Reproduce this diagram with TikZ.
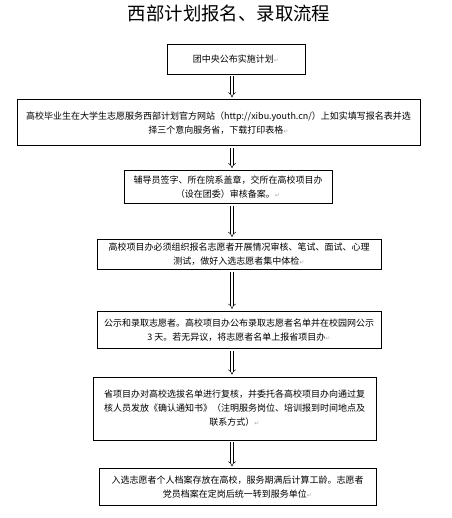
\documentclass[tikz,border=0pt]{standalone}
\usepackage{fontspec}
\setmainfont{Noto Sans CJK SC}
\newfontfamily\dejavu{DejaVu Sans}
\usetikzlibrary{positioning,arrows.meta}
\definecolor{markGray}{RGB}{170,170,170}
\newcommand{\retmark}{{\dejavu\color{markGray}\fontsize{6}{6}\selectfont ↵}}

\begin{document}
\begin{tikzpicture}[
  x=1pt, y=-1pt,
  font=\fontsize{9}{14}\selectfont,
  box/.style={rectangle, draw=black, line width=0.8pt, fill=white,
    inner sep=2pt, align=center},
  arr/.style={-{Implies}, double, double distance=2.2pt, line width=0.5pt,
    shorten <=2pt, shorten >=2pt}]
  \useasboundingbox (0,0) rectangle (451,518);
  \node (title) at (229,13) {\fontsize{18.4}{22}\selectfont 西部计划报名、录取流程};
  \coordinate (ax) at (232,0);
  \node[box, minimum width=138pt, minimum height=30pt] (plan) at (236,59)
    {团中央公布实施计划\retmark};
  \node[box, minimum width=403pt, minimum height=46pt, below=25pt of plan, xshift=-17.5pt] (apply)
    {高校毕业生在大学生志愿服务西部计划官方网站（http://xibu.youth.cn/）上如实填写报名表并选\\
     择三个意向服务省，下载打印表格\retmark};
  \node[box, minimum width=208pt, minimum height=33pt, below=24pt of apply, xshift=9.5pt] (sign)
    {辅导员签字、所在院系盖章，交所在高校项目办\\（设在团委）审核备案。\retmark};
  \node[box, minimum width=284pt, minimum height=30pt, below=35pt of sign, xshift=11pt] (exam)
    {高校项目办必须组织报名志愿者开展情况审核、笔试、面试、心理\\
     测试，做好入选志愿者集中体检\retmark};
  \node[box, minimum width=284pt, minimum height=37pt, below=41pt of exam] (publ)
    {公示和录取志愿者。高校项目办公布录取志愿者名单并在校园网公示\\
     3 天。若无异议，将志愿者名单上报省项目办\retmark};
  \node[box, minimum width=283pt, minimum height=63pt, below=28pt of publ, xshift=-4.5pt] (check)
    {省项目办对高校选拔名单进行复核，并委托各高校项目办向通过复\\
     核人员发放《确认通知书》（注明服务岗位、培训报到时间地点及\\
     联系方式）\retmark};
  \node[box, minimum width=277pt, minimum height=37pt, below=28pt of check, xshift=3pt] (file)
    {入选志愿者个人档案存放在高校，服务期满后计算工龄。志愿者\\
     党员档案在定岗后统一转到服务单位\retmark};
  \draw[arr] (plan.south -| ax) -- (apply.north -| ax);
  \draw[arr] (apply.south -| ax) -- (sign.north -| ax);
  \draw[arr] (sign.south -| ax) -- (exam.north -| ax);
  \draw[arr] (exam.south -| ax) -- (publ.north -| ax);
  \draw[arr] (publ.south -| ax) -- (check.north -| ax);
  \draw[arr] (check.south -| ax) -- (file.north -| ax);
\end{tikzpicture}
\end{document}
